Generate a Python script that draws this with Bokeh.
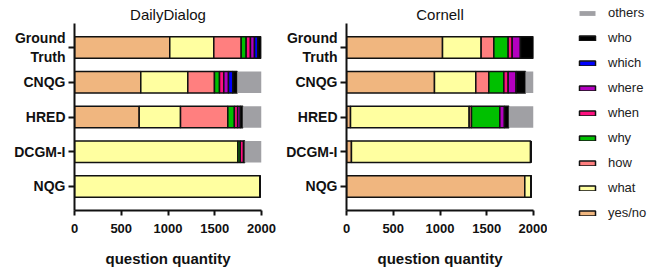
from bokeh.plotting import figure
from bokeh.models import (FactorRange, Range1d, Legend, LegendItem, Title,
                          ColumnDataSource, FixedTicker)
from bokeh.layouts import row, column
from bokeh.embed import file_html
from bokeh.resources import INLINE
from bokeh.transform import stack

# ---------------- data ----------------
models = ["Ground\nTruth", "CNQG", "HRED", "DCGM-I", "NQG"]
types = ["yes_no", "what", "how", "why", "when", "where", "which", "who", "others"]
type_labels = ["yes/no", "what", "how", "why", "when", "where", "which", "who", "others"]
colors = ["#F0B67F", "#FFFFA0", "#FF7F7F", "#00C000", "#FF1080",
          "#B400C0", "#0000FF", "#000000", "#A0A0A4"]
x_ticks = [0, 500, 1000, 1500, 2000]

# DailyDialog (order: Ground Truth, CNQG, HRED, DCGM-I, NQG)
dd_yes_no = [1019, 709, 692, 0, 0]
dd_what   = [471, 503, 442, 1748, 1985]
dd_how    = [293, 285, 506, 0, 0]
dd_why    = [53, 54, 70, 25, 0]
dd_when   = [46, 46, 35, 35, 0]
dd_where  = [43, 50, 30, 8, 0]
dd_which  = [36, 46, 0, 0, 0]
dd_who    = [34, 47, 25, 4, 0]
dd_others = [0, 260, 200, 180, 0]

# Cornell
co_yes_no = [1027, 941, 43, 53, 1907]
co_what   = [413, 442, 1269, 1917, 68]
co_how    = [136, 139, 25, 0, 0]
co_why    = [153, 161, 303, 0, 0]
co_when   = [43, 46, 0, 0, 0]
co_where  = [89, 86, 50, 0, 0]
co_which  = [0, 0, 0, 0, 0]
co_who    = [139, 99, 46, 0, 0]
co_others = [0, 86, 264, 0, 0]

dd = dict(model=models, yes_no=dd_yes_no, what=dd_what, how=dd_how, why=dd_why,
          when=dd_when, where=dd_where, which=dd_which, who=dd_who, others=dd_others)
co = dict(model=models, yes_no=co_yes_no, what=co_what, how=co_how, why=co_why,
          when=co_when, where=co_where, which=co_which, who=co_who, others=co_others)

FONT = "Liberation Sans"
H = 269


def make_fig(title, data, width, mbl, mbr):
    p = figure(y_range=FactorRange(factors=models[::-1], range_padding=0.195,
                                   range_padding_units="absolute"),
               x_range=Range1d(0, 2000), width=width, height=H,
               output_backend="svg", toolbar_location=None,
               min_border_left=mbl, min_border_right=mbr,
               min_border_top=23, min_border_bottom=56,
               title=Title(text=title, align="center", text_font=FONT,
                           text_font_size="15px", text_font_style="normal",
                           text_color="#111111", standoff=2))
    p.outline_line_color = None
    p.grid.visible = False
    p.background_fill_color = None
    src = ColumnDataSource(data)
    for i, t in enumerate(types):
        p.hbar(y="model", left=stack(*types[:i]), right=stack(*types[:i + 1]),
               height=0.62, source=src, fill_color=colors[i],
               line_color=None if t == "others" else "#111111",
               line_width=1.5)

    xa = p.xaxis[0]
    xa.ticker = FixedTicker(ticks=x_ticks)
    xa.axis_label = "question quantity"
    xa.axis_label_text_font = FONT
    xa.axis_label_text_font_style = "bold"
    xa.axis_label_text_font_size = "15px"
    xa.axis_label_text_color = "#111111"
    xa.axis_label_standoff = 14
    xa.major_label_text_font = FONT
    xa.major_label_text_font_style = "bold"
    xa.major_label_text_font_size = "13px"
    xa.major_label_text_color = "#111111"
    xa.major_label_standoff = 8
    xa.major_tick_out = 5
    xa.major_tick_in = 0
    xa.minor_tick_line_color = None

    ya = p.yaxis[0]
    ya.major_label_text_font = FONT
    ya.major_label_text_font_style = "bold"
    ya.major_label_text_font_size = "14px"
    ya.major_label_text_color = "#111111"
    ya.major_label_standoff = 3
    ya.major_tick_out = 6
    ya.major_tick_in = 0

    for ax in (xa, ya):
        ax.axis_line_width = 2
        ax.axis_line_color = "#111111"
        ax.major_tick_line_width = 2
        ax.major_tick_line_color = "#111111"
    return p


p1 = make_fig("DailyDialog", dd, 278, 74, 17)
p2 = make_fig("Cornell", co, 269, 68, 14)

# legend panel: renderers share the Cornell source but are hidden
pl = figure(width=112, height=H, output_backend="svg", toolbar_location=None,
            title=None, min_border_left=0, min_border_right=0, min_border_top=0,
            min_border_bottom=0, x_axis_location=None, y_axis_location=None,
            y_range=FactorRange(factors=models[::-1]), x_range=Range1d(0, 2000))
pl.outline_line_color = None
pl.grid.visible = False
lsrc = ColumnDataSource(co)
lrends = []
for i, t in enumerate(types):
    r = pl.hbar(y="model", left=stack(*types[:i]), right=stack(*types[:i + 1]),
                height=0.62, source=lsrc, fill_color=colors[i],
                line_color=None if t == "others" else "#111111", line_width=1.5,
                visible=False)
    lrends.append(r)
items = [LegendItem(label=type_labels[i], renderers=[lrends[i]])
         for i in range(len(types) - 1, -1, -1)]
legend = Legend(items=items, location=(30, 46), glyph_width=20, glyph_height=6,
                label_height=21, spacing=4, label_standoff=11, padding=0, margin=0,
                border_line_color=None, background_fill_alpha=0,
                inactive_fill_alpha=0, label_text_font=FONT,
                label_text_font_size="13px", label_text_color="#222222")
pl.add_layout(legend)

layout = row(p1, p2, column(pl))
open("out.html", "w").write(file_html(layout, INLINE))
